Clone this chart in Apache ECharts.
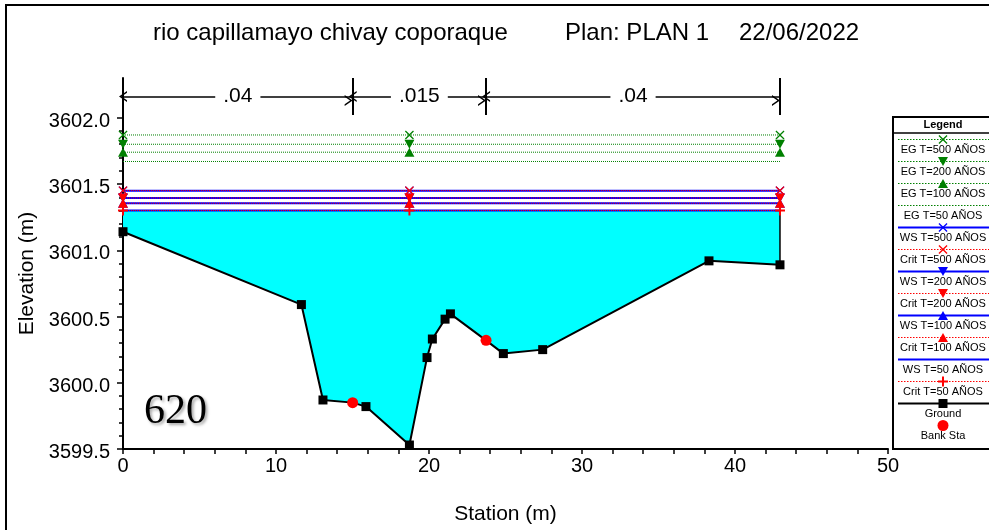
<!DOCTYPE html>
<html>
<head>
<meta charset="utf-8">
<script src="https://cdn.jsdelivr.net/npm/echarts@6/dist/echarts.min.js"></script>
<style>
  html, body { margin: 0; padding: 0; background: #fff; }
  #chart { width: 989px; height: 530px; }
</style>
</head>
<body>
<div id="chart"></div>
<script>
// Cross section 620 - ground profile (station m, elevation m)
const groundStation = [0, 11.66, 13.07, 15.01, 15.88, 18.72, 19.87, 20.22, 21.05, 21.40, 23.73, 24.86, 27.43, 38.30, 42.94];
const groundElev    = [3601.14, 3600.59, 3599.87, 3599.85, 3599.82, 3599.53, 3600.19, 3600.33, 3600.48, 3600.52, 3600.32, 3600.22, 3600.25, 3600.92, 3600.89];

// Bank stations
const bankStation = [15.01, 23.73];
const bankElev    = [3599.85, 3600.32];

// Manning's n breaks and values
const nBreaks = [0, 15.01, 23.73, 42.94];
const nValues = ['.04', '.015', '.04'];

// Profiles: energy grade, water surface and critical depth elevations
const profileNames = ['T=500 AÑOS', 'T=200 AÑOS', 'T=100 AÑOS', 'T=50 AÑOS'];
const egElev   = [3601.87, 3601.80, 3601.74, 3601.67];
const wsElev   = [3601.45, 3601.395, 3601.355, 3601.30];
const critElev = [3601.45, 3601.395, 3601.355, 3601.30];
const profileMarkStations = [0, 18.72, 42.94];

// Axis ticks
const xTicks = [0, 10, 20, 30, 40, 50];
const yTicks = [3599.5, 3600.0, 3600.5, 3601.0, 3601.5, 3602.0];
const yTop = 3602.3;

const FONT = 'Liberation Sans, Arial, Helvetica, sans-serif';
const GREEN = '#008000', BLUE = '#0000FF', RED = '#FF0000';

// marker outlines in a 10-unit box, scaled to [w, h]
const SYM = {
  x:    { pts: [[1,0],[5,4],[9,0],[10,1],[6,5],[10,9],[9,10],[5,6],[1,10],[0,9],[4,5],[0,1]], size: [9, 9] },
  down: { pts: [[0,0],[10,0],[5,10]], size: [10, 9] },
  up:   { pts: [[5,0],[10,10],[0,10]], size: [10, 9] },
  plus: { pts: [[4,0],[6,0],[6,4],[10,4],[10,6],[6,6],[6,10],[4,10],[4,6],[0,6],[0,4],[4,4]], size: [10, 10] }
};
function symPath(k) {
  return 'path://' + SYM[k].pts.map((p, i) => (i ? 'L' : 'M') + p[0] + ',' + p[1]).join('') + 'Z';
}
const egMarks   = ['x', 'down', 'up', null];
const wsMarks   = ['x', 'down', 'up', null];
const critMarks = ['x', 'down', 'up', 'plus'];

// minor ticks every 0.1 m between the labelled ticks
const yMinorTicks = [];
for (let k = 0; k < yTicks.length - 1; k++) {
  for (let j = 1; j < 5; j++) yMinorTicks.push(+(yTicks[k] + j * (yTicks[k + 1] - yTicks[k]) / 5).toFixed(2));
}

function profileSeries(name, levels, i, marks, color, lineType, width, z) {
  const m = marks[i];
  return {
    name: name,
    type: 'line',
    xAxisIndex: 0, yAxisIndex: 0,
    data: profileMarkStations.map(s => [s, levels[i]]),
    symbol: m ? symPath(m) : 'none',
    symbolSize: m ? SYM[m].size : 0,
    showAllSymbol: true,
    clip: false,
    silent: true,
    z: z,
    lineStyle: { color: color, width: width, type: lineType },
    itemStyle: { color: color, opacity: 1 },
    emphasis: { disabled: true }
  };
}

const series = [];

// water area between ground and the lowest water surface
series.push({
  type: 'custom',
  xAxisIndex: 0, yAxisIndex: 0,
  data: [0],
  silent: true,
  clip: false,
  z: 1,
  renderItem: function (params, api) {
    const lvl = wsElev[wsElev.length - 1];
    const last = groundStation.length - 1;
    const pts = groundStation.map((s, i) => api.coord([s, groundElev[i]]));
    const left = api.coord([groundStation[0], lvl]);
    const right = api.coord([groundStation[last], lvl]);
    return {
      type: 'group',
      children: [
        { type: 'polygon', shape: { points: [left].concat(pts, [right]) }, style: { fill: '#00FFFF', stroke: null } },
        { type: 'line', shape: { x1: pts[last][0], y1: pts[last][1], x2: right[0], y2: right[1] }, style: { stroke: '#000', lineWidth: 1.5 } }
      ]
    };
  }
});

profileNames.forEach((p, i) => series.push(profileSeries('EG ' + p, egElev, i, egMarks, GREEN, 'dotted', 1, 2)));
profileNames.forEach((p, i) => series.push(profileSeries('WS ' + p, wsElev, i, wsMarks, BLUE, 'solid', 2, 3)));
profileNames.forEach((p, i) => series.push(profileSeries('Crit ' + p, critElev, i, critMarks, RED, 'dotted', 1, 4)));

// ground line
series.push({
  name: 'Ground',
  type: 'line',
  xAxisIndex: 0, yAxisIndex: 0,
  data: groundStation.map((s, i) => ({ value: [s, groundElev[i]], symbol: bankStation.indexOf(s) >= 0 ? 'none' : 'rect' })),
  symbol: 'rect',
  symbolSize: 9,
  showAllSymbol: true,
  clip: false,
  silent: true,
  z: 5,
  lineStyle: { color: '#000', width: 2 },
  itemStyle: { color: '#000', opacity: 1 },
  emphasis: { disabled: true }
});

// bank stations
series.push({
  name: 'Bank Sta',
  type: 'scatter',
  xAxisIndex: 0, yAxisIndex: 0,
  data: bankStation.map((s, i) => [s, bankElev[i]]),
  symbol: 'circle',
  symbolSize: 11,
  silent: true,
  z: 6,
  itemStyle: { color: RED, opacity: 1 }
});

// Manning's n break lines
series.push({
  type: 'line',
  xAxisIndex: 1, yAxisIndex: 2,
  data: nBreaks.map(b => [b, 0.5]),
  showSymbol: false,
  lineStyle: { opacity: 0 },
  silent: true,
  markLine: {
    silent: true,
    symbol: 'none',
    label: { show: false },
    lineStyle: { color: '#000', width: 2, type: 'solid' },
    data: nBreaks.map(b => ({ xAxis: b }))
  }
});

// Manning's n spans with values
const CHEVRON = 'path://M0,10L5,0L10,10L8.4,10L5,3.2L1.6,10Z';
series.push({
  type: 'line',
  xAxisIndex: 1, yAxisIndex: 2,
  data: nBreaks.map(b => [b, 0.5]),
  showSymbol: false,
  lineStyle: { opacity: 0 },
  silent: true,
  markLine: {
    silent: true,
    symbol: [CHEVRON, CHEVRON],
    symbolSize: [11, 8],
    symbolOffset: [0, 4],
    lineStyle: { color: '#000', width: 1.5, type: 'solid' },
    label: {
      show: true,
      position: 'insideMiddle',
      distance: 0,
      formatter: '{b}',
      color: '#000',
      fontFamily: FONT,
      fontSize: 21,
      backgroundColor: '#fff',
      padding: [0, 8]
    },
    data: nValues.map((v, i) => [
      { coord: [nBreaks[i], 0.5], name: v },
      { coord: [nBreaks[i + 1], 0.5] }
    ])
  }
});

// legend drawn as a boxed list: line sample, marker and label under it
function markGraphic(kind, cx, cy, color) {
  if (kind === 'rect') return { type: 'rect', shape: { x: cx - 4.5, y: cy - 4.5, width: 9, height: 9 }, style: { fill: color } };
  if (kind === 'circle') return { type: 'circle', shape: { cx: cx, cy: cy, r: 5.5 }, style: { fill: color } };
  const s = SYM[kind];
  const pts = s.pts.map(p => [cx - s.size[0] / 2 + p[0] * s.size[0] / 10, cy - s.size[1] / 2 + p[1] * s.size[1] / 10]);
  return { type: 'polygon', shape: { points: pts }, style: { fill: color } };
}

const legendEntries = [];
profileNames.forEach((p, i) => legendEntries.push({ label: 'EG ' + p, color: GREEN, dash: [1.5, 1.5], w: 1, mark: egMarks[i] }));
profileNames.forEach((p, i) => {
  legendEntries.push({ label: 'WS ' + p, color: BLUE, dash: null, w: 2, mark: wsMarks[i] });
  legendEntries.push({ label: 'Crit ' + p, color: RED, dash: [1.5, 1.5], w: 1, mark: critMarks[i] });
});
legendEntries.push({ label: 'Ground', color: '#000', dash: null, w: 2, mark: 'rect' });
legendEntries.push({ label: 'Bank Sta', color: RED, dash: null, w: 0, mark: 'circle' });

const LX = 893, LY = 117, LW = 112, LH = 332, LC = 943;
const legendGraphics = [
  { type: 'rect', shape: { x: LX, y: LY, width: LW, height: LH }, style: { fill: '#fff', stroke: '#000', lineWidth: 2 }, z: 10 },
  { type: 'text', x: LC, y: LY + 2, style: { text: 'Legend', font: 'bold 11px ' + FONT, fill: '#000', align: 'center', verticalAlign: 'top' }, z: 11 },
  { type: 'line', shape: { x1: LX, y1: LY + 16, x2: LX + LW, y2: LY + 16 }, style: { stroke: '#000', lineWidth: 1.5 }, z: 11 }
];
legendEntries.forEach((e, i) => {
  const y = LY + 22.5 + 22 * i;
  if (e.w > 0) {
    const st = { stroke: e.color, lineWidth: e.w };
    if (e.dash) st.lineDash = e.dash;
    legendGraphics.push({ type: 'line', shape: { x1: LX + 5, y1: y, x2: LX + LW, y2: y }, style: st, z: 11 });
  }
  if (e.mark) {
    const g = markGraphic(e.mark, LC, y, e.color);
    g.z = 12;
    legendGraphics.push(g);
  }
  legendGraphics.push({ type: 'text', x: LC, y: y + 10.5, style: { text: e.label, font: '11px ' + FONT, fill: '#000', align: 'center', verticalAlign: 'middle' }, z: 12 });
});

const chart = echarts.init(document.getElementById('chart'), null, { renderer: 'canvas' });
chart.setOption({
  animation: false,
  backgroundColor: '#fff',
  title: [
    { text: 'rio capillamayo chivay coporaque', left: 148, top: 16, textStyle: { fontFamily: FONT, fontSize: 24, fontWeight: 'normal', color: '#000' } },
    { text: 'Plan: PLAN 1', left: 560, top: 16, textStyle: { fontFamily: FONT, fontSize: 24, fontWeight: 'normal', color: '#000' } },
    { text: '22/06/2022', left: 734, top: 16, textStyle: { fontFamily: FONT, fontSize: 24, fontWeight: 'normal', color: '#000' } },
    { text: '620', left: 139, top: 386, textStyle: { fontFamily: 'Liberation Serif, Times New Roman, serif', fontSize: 42, fontWeight: 'normal', color: '#000', textShadowColor: 'rgba(0,0,0,0.35)', textShadowBlur: 3, textShadowOffsetX: 2, textShadowOffsetY: 2 } }
  ],
  grid: [
    { left: 123, right: 101, top: 78, bottom: 78 },
    { left: 123, right: 101, top: 78, height: 37 }
  ],
  xAxis: [
    {
      gridIndex: 0, type: 'value', min: xTicks[0], max: xTicks[xTicks.length - 1], interval: 10,
      axisLine: { show: true, onZero: false, lineStyle: { color: '#000', width: 2 } },
      axisTick: { show: true, length: 5, lineStyle: { color: '#000', width: 1.5 } },
      minorTick: { show: true, splitNumber: 5, length: 5, lineStyle: { color: '#000', width: 1.5 } },
      splitLine: { show: false },
      axisLabel: { color: '#000', fontFamily: FONT, fontSize: 20, margin: 7 },
      name: 'Station (m)', nameLocation: 'middle', nameGap: 55,
      nameTextStyle: { color: '#000', fontFamily: FONT, fontSize: 21 }
    },
    { gridIndex: 1, type: 'value', min: xTicks[0], max: xTicks[xTicks.length - 1], show: false }
  ],
  yAxis: [
    {
      gridIndex: 0, type: 'value', position: 'left', offset: 0,
      min: yTicks[0], max: yTop, interval: 0.5,
      axisLine: { show: true, onZero: false, lineStyle: { color: '#000', width: 2 } },
      axisTick: { show: true, length: 6, customValues: yTicks, lineStyle: { color: '#000', width: 1.5 } },
      splitLine: { show: false },
      axisLabel: { color: '#000', fontFamily: FONT, fontSize: 20, margin: 13, verticalAlign: 'top', lineHeight: 7, customValues: yTicks, formatter: v => Number(v).toFixed(1) },
      name: 'Elevation (m)', nameLocation: 'middle', nameGap: 84, nameRotate: 90,
      nameTextStyle: { color: '#000', fontFamily: FONT, fontSize: 21, padding: [0, 20, 0, 0] }
    },
    {
      gridIndex: 0, type: 'value', position: 'left', offset: 0,
      min: yTicks[0], max: yTop, interval: 0.1,
      axisLine: { show: false },
      axisLabel: { show: false },
      splitLine: { show: false },
      axisTick: { show: true, length: 4, customValues: yMinorTicks, lineStyle: { color: '#000', width: 1.5 } }
    },
    { gridIndex: 1, type: 'value', min: 0, max: 1, show: false }
  ],
  graphic: [
    { type: 'rect', shape: { x: 6, y: 5, width: 1000, height: 600 }, style: { fill: 'none', stroke: '#000', lineWidth: 2 }, z: -10, silent: true }
  ].concat(legendGraphics),
  series: series
});
</script>
</body>
</html>
